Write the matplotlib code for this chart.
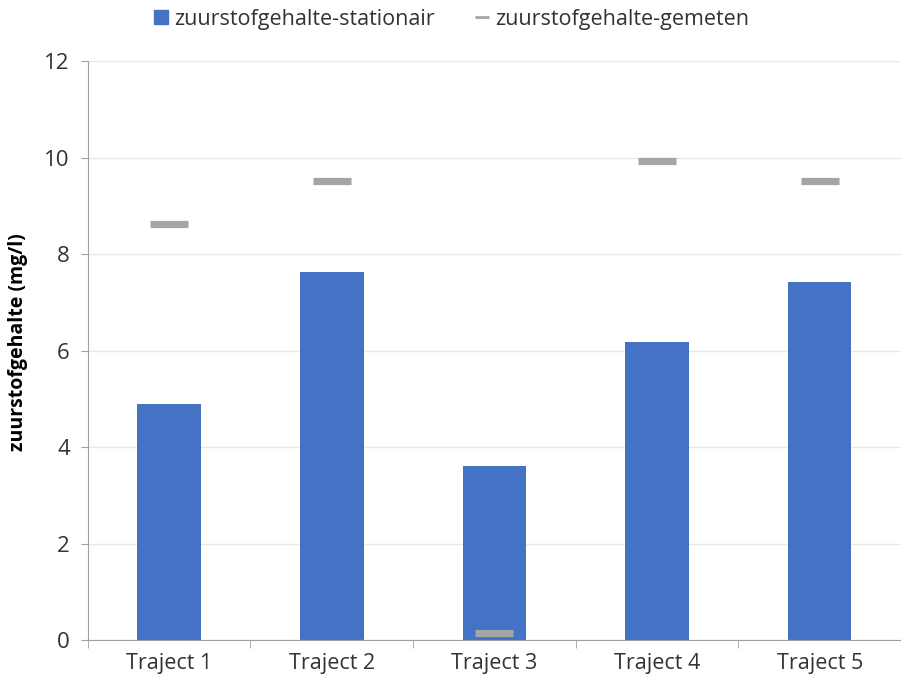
import matplotlib
matplotlib.use("Agg")
import matplotlib.pyplot as plt
import numpy as np
from matplotlib.lines import Line2D

categories = ["Traject 1", "Traject 2", "Traject 3", "Traject 4", "Traject 5"]
stationair = [4.9, 7.62, 3.6, 6.18, 7.43]
gemeten = [8.62, 9.52, 0.15, 9.93, 9.52]
y_ticks = [0, 2, 4, 6, 8, 10, 12]

plt.rcParams["font.family"] = ["Open Sans", "DejaVu Sans"]

fig = plt.figure(figsize=(9.01, 6.81), dpi=100)
ax = fig.add_axes([0.0975, 0.0602, 0.9025, 0.8502])

x = np.arange(len(categories))
ax.bar(x, stationair, width=0.39, color="#4472C4", zorder=2,
       label="zuurstofgehalte-stationair")
ax.scatter(x, gemeten, marker="_", s=740, linewidths=5.2, color="#A5A5A5",
           zorder=3, label="zuurstofgehalte-gemeten")

ax.set_xlim(-0.5, len(categories) - 0.5)
ax.set_ylim(0, 12)
ax.set_yticks(y_ticks)
ax.set_yticklabels([str(t) for t in y_ticks], fontsize=16, color="#333333")
ax.set_xticks(x)
ax.set_xticklabels(categories, fontsize=15.5, color="#333333")
ax.tick_params(axis="x", length=0, pad=9)
ax.tick_params(axis="y", length=5, color="#A0A0A0", pad=8)
ax.set_xticks(np.arange(-0.5, len(categories) + 0.5, 1), minor=True)
ax.tick_params(axis="x", which="minor", length=6, color="#A0A0A0")

ax.grid(axis="y", color="#E8E8E8", linewidth=1, zorder=0)
for s in ["top", "right"]:
    ax.spines[s].set_visible(False)
ax.spines["left"].set_color("#A0A0A0")
ax.spines["bottom"].set_color("#A0A0A0")

ax.set_ylabel("zuurstofgehalte (mg/l)", fontsize=14, fontweight="bold",
              color="black")
ax.yaxis.set_label_coords(-0.074, 0.515)

handles = [
    Line2D([], [], marker="s", color="#4472C4", linestyle="none", markersize=10),
    Line2D([], [], marker="_", color="#A5A5A5", linestyle="none", markersize=10,
           markeredgewidth=2),
]
fig.legend(handles, ["zuurstofgehalte-stationair", "zuurstofgehalte-gemeten"],
           loc="center", bbox_to_anchor=(0.5, 0.972), ncol=2, frameon=False,
           fontsize=15.5, handletextpad=0.2, columnspacing=1.8,
           labelcolor="#333333", handlelength=0.8)

fig.savefig("out.png", dpi=100)
